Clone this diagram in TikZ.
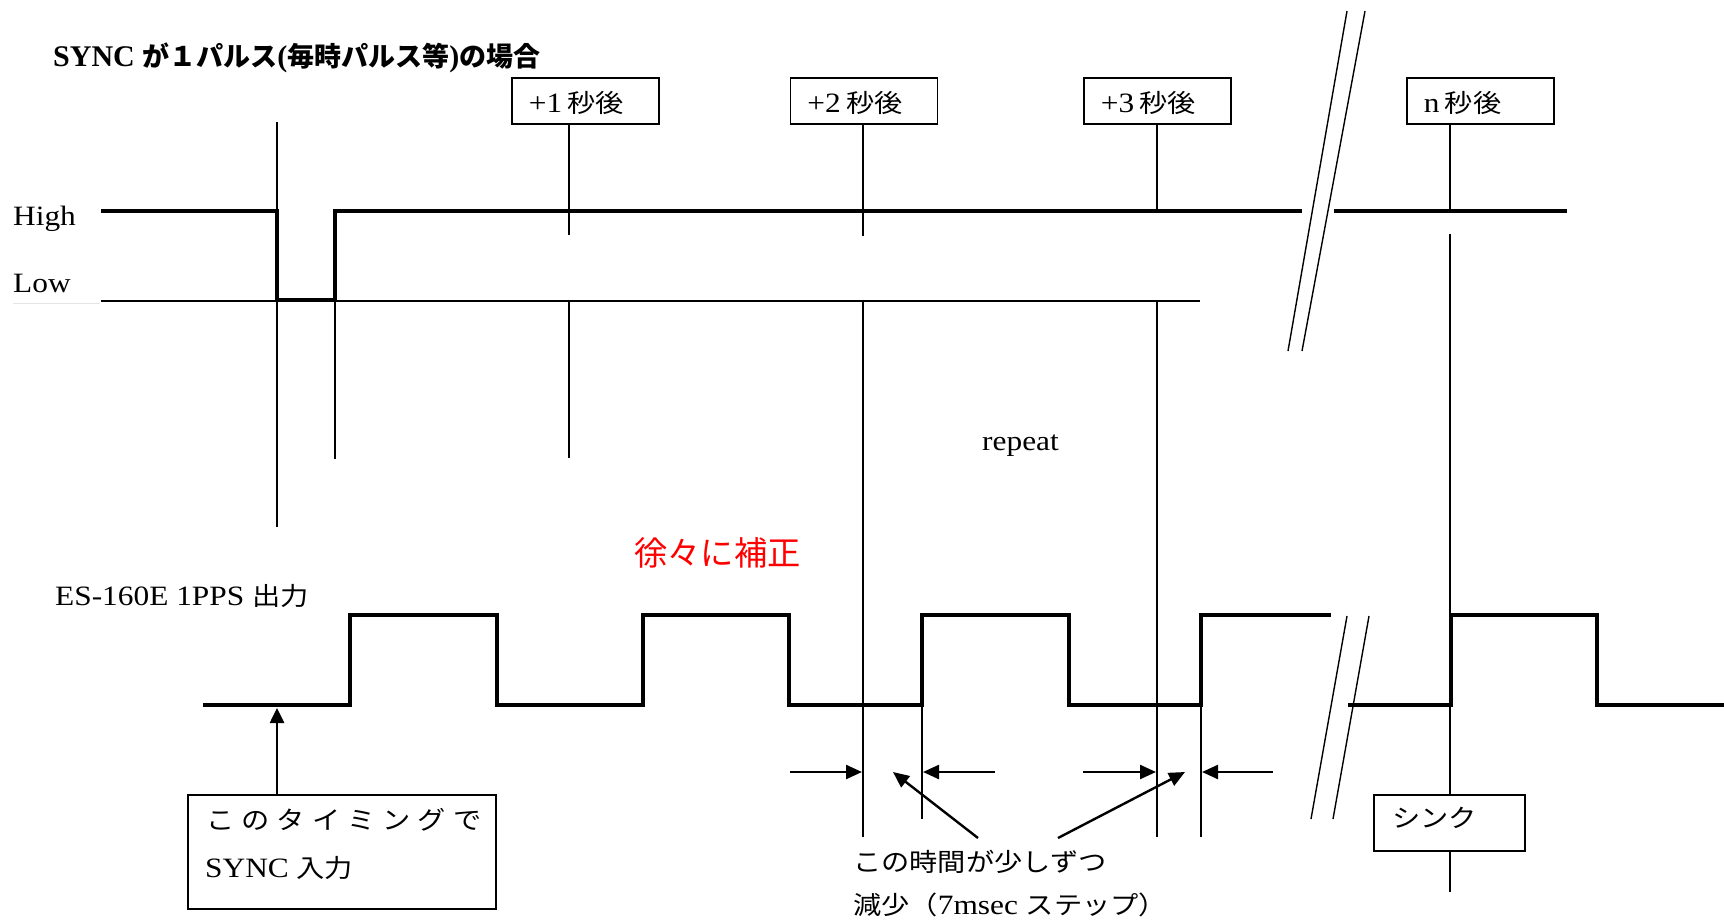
\documentclass[tikz,border=0pt]{standalone}
\usepackage{fontspec}
\usepackage{graphicx}
\setmainfont{Liberation Serif}
\newfontfamily\jpf[Scale=0.9]{Noto Sans CJK JP}
\usetikzlibrary{arrows.meta}
\newcommand{\sx}[1]{\scalebox{1.12}[1]{#1}}
\newcommand{\J}[1]{{\jpf #1}}
\begin{document}
\begin{tikzpicture}[x=1pt,y=-1pt,
  tick/.style={line width=1.4pt},
  sig/.style={line width=4.6pt, line join=miter, line cap=butt},
  boxst/.style={draw, line width=1.8pt, inner xsep=17pt, inner ysep=0pt,
    text width=113pt, minimum height=46pt, align=left, anchor=north west,
    text height=26pt, text depth=2pt, font=\fontsize{28}{32}\selectfont},
  txt/.style={inner sep=0pt, anchor=base west, font=\fontsize{28}{32}\selectfont},
  arr/.style={line width=2.4pt, -{Triangle[length=16pt,width=14pt]}},
  varr/.style={line width=2.6pt, -{Triangle[length=15pt,width=14pt]}}]
\useasboundingbox (0,0) rectangle (1724,922);
\fill[white] (0,0) rectangle (1724,922);

% title and labels
\node[txt, font=\fontsize{30}{34}\selectfont\bfseries] (title) at (53,66)
  {SYNC \J{が１パルス}(\J{毎時パルス等})\J{の場合}};
\node[txt] (high) at (13,225) {\sx{High}};
\node[txt] (low) at (13,292) {\sx{Low}};

% top boxes
\node[boxst] (b1) at (511,77) {\sx{+1\,\J{秒後}}};
\node[boxst] (b2) at (789.5,77) {\sx{+2\,\J{秒後}}};
\node[boxst] (b3) at (1083,77) {\sx{+3\,\J{秒後}}};
\node[boxst] (bn) at (1406,77) {\sx{n\,\J{秒後}}};

\coordinate (x1) at (569,0);
\coordinate (x2) at (863,0);
\coordinate (x3) at (1157,0);
\coordinate (xn) at (1450,0);

% SYNC signal
\draw[line width=1pt, gray!20] (13,303) -- (100,303);
\draw[line width=2pt] (101,301) -- (1200,301);
\draw[sig] (101,211) -- (277,211) -- (277,300) -- (335,300) -- (335,211) -- (1302,211);
\draw[sig] (1334,211) -- (1567,211);

% break lines (top)
\draw[tick] (1347,11) -- (1288,351);
\draw[tick] (1365,11) -- (1302,351);

% vertical marker lines
\draw[tick] (277,122) -- (277,527);
\draw[tick] (335,211) -- (335,459);
\draw[tick] (b1.south -| x1) -- (569,235);
\draw[tick] (569,301) -- (569,458);
\draw[tick] (b2.south -| x2) -- (863,236);
\draw[tick] (863,301) -- (863,837);
\draw[tick] (b3.south -| x3) -- (1157,211);
\draw[tick] (1157,301) -- (1157,837);
\draw[tick] (bn.south -| xn) -- (1450,211);
\draw[tick] (922,705) -- (922,819);
\draw[tick] (1201,705) -- (1201,837);

% texts
\node[txt] (repeat) at (982,450) {\sx{repeat}};
\node[inner sep=0pt, anchor=base west, text=red, font=\fontsize{37}{40}\selectfont] (hosei) at (634,565) {\J{徐々に補正}};
\node[txt] (es) at (55,605) {\sx{ES-160E 1PPS \J{出力}}};

% ES-160E 1PPS output
\draw[sig] (203,705) -- (350,705) -- (350,615) -- (497,615) -- (497,705) -- (643,705)
  -- (643,615) -- (789,615) -- (789,705) -- (922,705) -- (922,615) -- (1069,615)
  -- (1069,705) -- (1201,705) -- (1201,615) -- (1331,615);
\draw[sig] (1348,705) -- (1451,705) -- (1451,615) -- (1597,615) -- (1597,705) -- (1724,705);

% break lines (bottom)
\draw[tick] (1347,616) -- (1311,819);
\draw[tick] (1369,616) -- (1333,819);

% sync box
\node[draw, line width=1.8pt, minimum width=308pt, minimum height=114pt, inner sep=0pt,
  anchor=north west] (syncbox) at (187,794) {};
\node[txt] (sl1) at (206,829) {\sx{\J{こ\hspace{6.3pt}の\hspace{6.3pt}タ\hspace{6.3pt}イ\hspace{6.3pt}ミ\hspace{6.3pt}ン\hspace{6.3pt}グ\hspace{6.3pt}で}}};
\node[txt] (sl2) at (205,877) {\sx{SYNC \J{入力}}};
\coordinate (sx) at (277,0);
\draw[varr] (syncbox.north -| sx) -- (277,708);

% shink box
\node[draw, line width=1.8pt, minimum width=151pt, minimum height=56pt, inner sep=0pt,
  anchor=north west] (shink) at (1373,794) {};
\node[txt] (shinkt) at (1392,827) {\sx{\J{シンク}}};
\draw[tick] (1450,234) -- (shink.north -| xn);
\draw[tick] (shink.south -| xn) -- (1450,892);

% gap arrows
\coordinate (a1s) at (790,772);  \coordinate (a1e) at (862,772);
\coordinate (a2s) at (995,772);  \coordinate (a2e) at (923,772);
\coordinate (a3s) at (1083,772); \coordinate (a3e) at (1156,772);
\coordinate (a4s) at (1273,772); \coordinate (a4e) at (1202,772);
\draw[arr] (a1s) -- (a1e);
\draw[arr] (a2s) -- (a2e);
\draw[arr] (a3s) -- (a3e);
\draw[arr] (a4s) -- (a4e);

% explanation
\node[txt] (ex1) at (853,871) {\sx{\J{この時間が少しずつ}}};
\node[txt] (ex2) at (853,914) {\sx{\J{減少（}7msec \J{ステップ）}}};
\coordinate (d1s) at (978,838); \coordinate (d1e) at (893,772);
\coordinate (d2s) at (1058,838); \coordinate (d2e) at (1185,772);
\draw[arr] (d1s) -- (d1e);
\draw[arr] (d2s) -- (d2e);
\end{tikzpicture}
\end{document}
